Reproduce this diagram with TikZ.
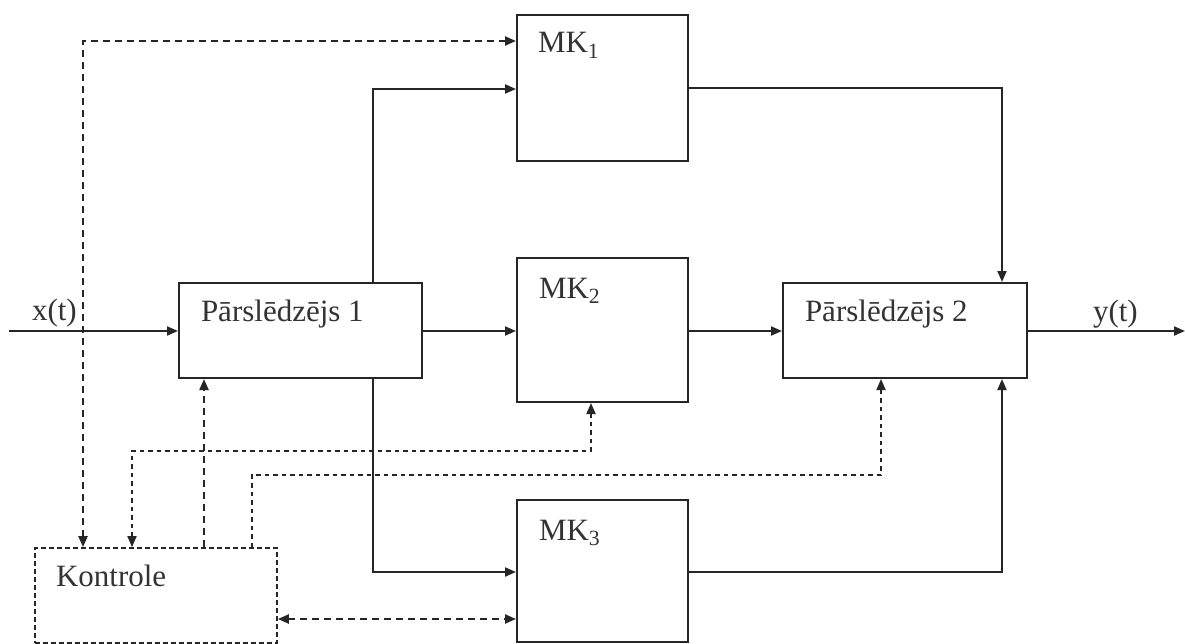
\documentclass[tikz,border=0pt]{standalone}
\usepackage{fontspec}
\setmainfont{Liberation Serif}
\usetikzlibrary{arrows.meta}
\begin{document}
\begin{tikzpicture}[x=1pt,y=-1pt,
  line width=2pt, color=black!85,
  lbl/.style={anchor=base west, inner sep=0pt, font=\fontsize{31}{34}\selectfont, text=black!80},
  blk/.style={draw, line width=2pt, inner sep=0pt},
  kbox/.style={draw, line width=1.8pt, dash pattern=on 5pt off 3pt, inner sep=0pt},
  tip/.style={-{Triangle[length=11pt,width=9pt]}},
  tips/.style={{Triangle[length=11pt,width=9pt]}-{Triangle[length=11pt,width=9pt]}},
  dsh/.style={line width=2.2pt, dash pattern=on 7pt off 5pt},
  dsht/.style={line width=1.8pt, dash pattern=on 4.5pt off 4pt}
]
\useasboundingbox (0,0) rectangle (1185,644);

% blocks
\node[blk, minimum width=171pt, minimum height=146pt] (MK1) at (602.5,88) {};
\node[blk, minimum width=171pt, minimum height=144pt] (MK2) at (602.5,330) {};
\node[blk, minimum width=171pt, minimum height=142pt] (MK3) at (602.5,571) {};
\node[blk, minimum width=243pt, minimum height=95pt] (P1) at (300.5,330.5) {};
\node[blk, minimum width=244pt, minimum height=95pt] (P2) at (905,330.5) {};
\node[kbox, minimum width=242pt, minimum height=95pt] (K) at (156,595.5) {};

% labels
\node[lbl] (tMK1) at (537,53) {MK\textsubscript{1}};
\node[lbl] (tMK2) at (538,298) {MK\textsubscript{2}};
\node[lbl] (tMK3) at (538,540) {MK\textsubscript{3}};
\node[lbl] (tP1) at (200,321) {Pārslēdzējs 1};
\node[lbl] (tP2) at (804,321) {Pārslēdzējs 2};
\node[lbl] (tK) at (55,586) {Kontrole};
\node[lbl] (tx) at (31,320) {x(t)};
\node[lbl] (ty) at (1092,321) {y(t)};

% coordinates
\coordinate (xin) at (9,331);
\coordinate (yout) at (1185,331);
\coordinate (a1) at (373,89);
\coordinate (a2) at (373,572);
\coordinate (b1) at (1002,88);
\coordinate (b2) at (1002,572);
\coordinate (d0) at (83,41);
\coordinate (d1) at (204,500);
\coordinate (c1) at (132,451);
\coordinate (c2) at (591,451);
\coordinate (c3) at (252,475);
\coordinate (c4) at (881,475);
\coordinate (c5) at (400,619);

% solid connectors
\draw[tip] (xin) -- (xin -| P1.west);
\draw[tip] (P1.east |- xin) -- (MK2.west |- xin);
\draw[tip] (MK2.east |- xin) -- (P2.west |- xin);
\draw[tip] (P2.east |- yout) -- (yout);
\draw[tip] (P1.north -| a1) -- (a1) -- (MK1.west |- a1);
\draw[tip] (P1.south -| a2) -- (a2) -- (MK3.west |- a2);
\draw[tip] (MK1.east |- b1) -- (b1) -- (P2.north -| b1);
\draw[tip] (MK3.east |- b2) -- (b2) -- (P2.south -| b2);

% dashed control connectors
\draw[tips, dsh] (K.north -| d0) -- (d0) -- (MK1.west |- d0);
\draw[tip, dsh] (K.north -| d1) -- (P1.south -| d1);
\draw[tips, dsht] (K.north -| c1) -- (c1) -- (c2) -- (MK2.south -| c2);
\draw[tip, dsht] (K.north -| c3) -- (c3) -- (c4) -- (P2.south -| c4);
\draw[tips, dsh] (K.east |- c5) -- (MK3.west |- c5);
\end{tikzpicture}
\end{document}
